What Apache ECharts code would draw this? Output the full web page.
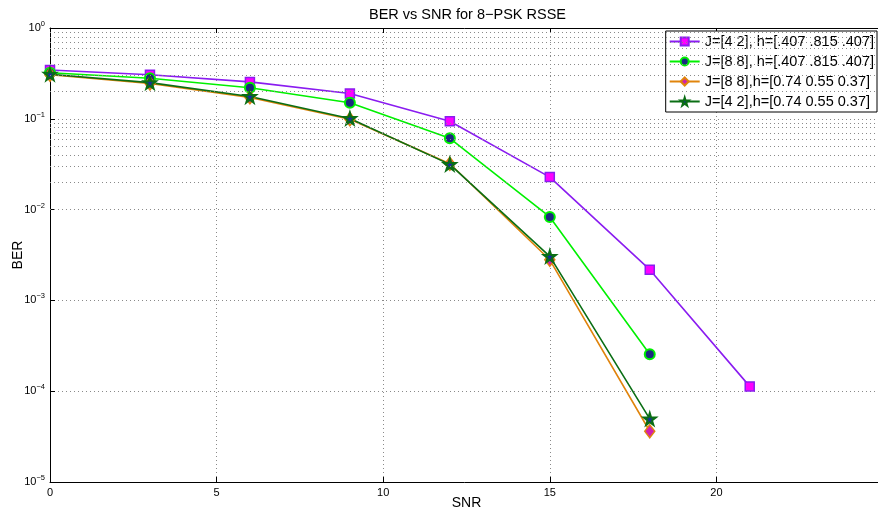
<!DOCTYPE html>
<html>
<head>
<meta charset="utf-8">
<script src="https://cdn.jsdelivr.net/npm/echarts@6/dist/echarts.min.js"></script>
<style>
  html, body { margin: 0; padding: 0; background: #fff; }
  #chart { width: 878px; height: 512px; }
</style>
</head>
<body>
<div id="chart"></div>
<script>
// SNR points
const snr = [0, 3, 6, 9, 12, 15, 18, 21];

// BER values per curve
const berJ42a = [0.345, 0.305, 0.255, 0.19, 0.094, 0.0228, 0.00218, 0.000113];
const berJ88a = [0.322, 0.28, 0.22, 0.15, 0.061, 0.0083, 0.000255];
const berJ88b = [0.305, 0.245, 0.172, 0.099, 0.032, 0.0028, 0.0000362];
const berJ42b = [0.31, 0.25, 0.176, 0.101, 0.0315, 0.00305, 0.0000495];

const names = [
  'J=[4 2], h=[.407 .815 .407]',
  'J=[8 8], h=[.407 .815 .407]',
  'J=[8 8],h=[0.74 0.55 0.37]',
  'J=[4 2],h=[0.74 0.55 0.37]'
];

// minor log grid lines (2..9 x 10^k)
const minorGrid = [];
for (let k = -5; k < 0; k++) {
  for (let m = 2; m <= 9; m++) minorGrid.push(m * Math.pow(10, k));
}

const pair = (ys) => ys.map((v, i) => [snr[i], v]);
const star = 'path://M50,0 L61,35 L98,35 L68,57 L79,91 L50,70 L21,91 L32,57 L2,35 L39,35 Z';
const font = 'Liberation Sans, Arial, sans-serif';
const dotted = { type: [1, 3], color: '#8a8a8a', width: 1 };

const chart = echarts.init(document.getElementById('chart'));

const option = {
  backgroundColor: '#fff',
  animation: false,
  title: {
    text: 'BER vs SNR for 8\u2212PSK RSSE',
    left: 364, top: 2,
    textStyle: { fontSize: 14.5, fontWeight: 'normal', color: '#000', fontFamily: font }
  },
  legend: {
    orient: 'vertical',
    right: 1, top: 31,
    itemWidth: 30, itemHeight: 10, itemGap: 5,
    padding: [3, 3, 3, 3],
    borderColor: '#000', borderWidth: 1,
    backgroundColor: '#fff',
    textStyle: { fontSize: 14.5, color: '#000', fontFamily: font, lineHeight: 14 },
    data: names
  },
  grid: { left: 50, right: -5, top: 28, bottom: 30, containLabel: false, outerBoundsMode: 'none' },
  xAxis: [{
    type: 'value', min: 0, max: 25, interval: 5,
    name: 'SNR', nameLocation: 'middle', nameGap: 14, nameMoveOverlap: false,
    nameTextStyle: { fontSize: 14, color: '#000', fontFamily: font },
    axisLine: { lineStyle: { color: '#000', width: 1 } },
    axisTick: { inside: true, length: 5, lineStyle: { color: '#000' } },
    axisLabel: { fontSize: 11, color: '#000', fontFamily: font, margin: 5, showMaxLabel: false },
    splitLine: { show: true, lineStyle: dotted }
  }, {
    type: 'value', min: 0, max: 25, interval: 5, position: 'top',
    axisLine: { lineStyle: { color: '#000', width: 1 } },
    axisTick: { inside: true, length: 5, lineStyle: { color: '#000' } },
    axisLabel: { show: false },
    splitLine: { show: false }
  }],
  yAxis: {
    type: 'log', logBase: 10, min: 1e-5, max: 1,
    name: 'BER', nameLocation: 'middle', nameGap: 25, nameMoveOverlap: false,
    nameTextStyle: { fontSize: 14, color: '#000', fontFamily: font },
    axisLine: { show: true, lineStyle: { color: '#000', width: 1 } },
    axisTick: { show: true, inside: true, length: 5, lineStyle: { color: '#000' } },
    axisLabel: {
      color: '#000', fontFamily: font, fontSize: 11, margin: 5,
      formatter: (v) => {
        const e = Math.round(Math.log10(v));
        return '10{sup|' + (e < 0 ? '\u2212' + (-e) : e) + '}';
      },
      rich: {
        sup: { fontSize: 7.5, verticalAlign: 'bottom', padding: [0, 0, 8, 0], fontFamily: font, color: '#000' }
      }
    },
    splitLine: { show: true, lineStyle: dotted }
  },
  series: [
    {
      name: names[0], type: 'line', data: pair(berJ42a),
      symbol: 'rect', symbolSize: 9,
      lineStyle: { color: '#8a1cf0', width: 1.6 },
      itemStyle: { color: '#ff00ff', borderColor: '#8a1cf0', borderWidth: 1.5 },
      markLine: {
        silent: true, symbol: 'none', label: { show: false },
        lineStyle: dotted, animation: false,
        data: minorGrid.map(v => ({ yAxis: v }))
      }
    },
    {
      name: names[1], type: 'line', data: pair(berJ88a),
      symbol: 'circle', symbolSize: 10,
      lineStyle: { color: '#00f000', width: 1.6 },
      itemStyle: { color: '#1c2a80', borderColor: '#00f000', borderWidth: 2 }
    },
    {
      name: names[2], type: 'line', data: pair(berJ88b),
      symbol: 'diamond', symbolSize: [10, 13],
      lineStyle: { color: '#e0840c', width: 1.6 },
      itemStyle: { color: '#d020b0', borderColor: '#e0840c', borderWidth: 1.5 }
    },
    {
      name: names[3], type: 'line', data: pair(berJ42b),
      symbol: star, symbolSize: 12,
      lineStyle: { color: '#0a6e14', width: 1.6 },
      itemStyle: { color: '#1a2aa0', borderColor: '#0a6e14', borderWidth: 2 }
    }
  ]
};

chart.setOption(option);
</script>
</body>
</html>
